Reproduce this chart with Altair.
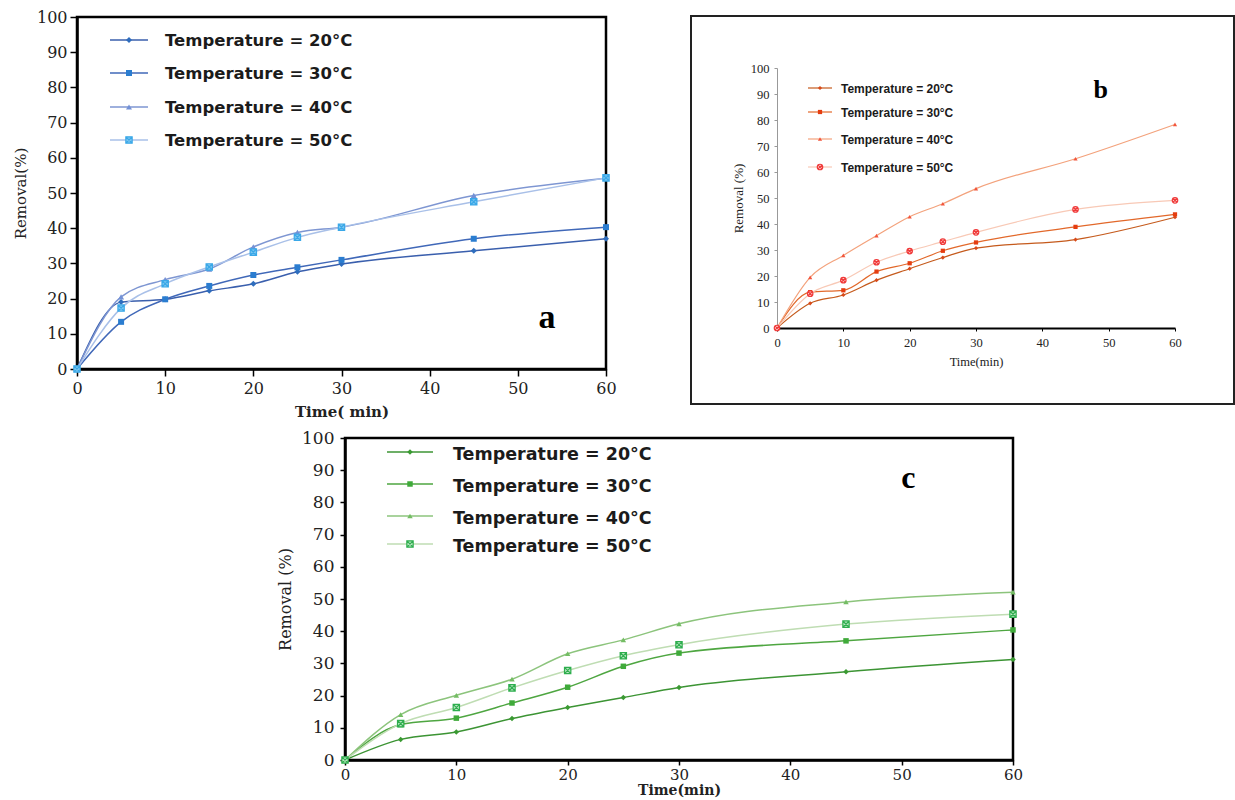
import altair as alt
import pandas as pd

W, H = 1235, 800

times = [0, 5, 10, 15, 20, 25, 30, 45, 60]
temps = ["Temperature = 20°C", "Temperature = 30°C", "Temperature = 40°C", "Temperature = 50°C"]
x_ticks = [0, 10, 20, 30, 40, 50, 60]
y_ticks = [0, 10, 20, 30, 40, 50, 60, 70, 80, 90, 100]

# Panel a
a_20 = [0, 19.0, 19.8, 22.2, 24.2, 27.6, 29.8, 33.6, 37.0]
a_30 = [0, 13.4, 19.8, 23.6, 26.7, 28.9, 31.0, 37.0, 40.3]
a_40 = [0, 20.5, 25.4, 28.4, 34.7, 38.8, 40.3, 49.3, 54.2]
a_50 = [0, 17.3, 24.2, 29.0, 33.2, 37.4, 40.3, 47.5, 54.3]
# Panel b
b_20 = [0, 9.5, 12.7, 18.4, 22.8, 27.1, 30.7, 34.0, 42.6]
b_30 = [0, 13.8, 14.5, 21.7, 24.9, 29.7, 32.9, 38.9, 43.7]
b_40 = [0, 19.5, 27.9, 35.5, 42.8, 47.8, 53.6, 65.1, 78.3]
b_50 = [0, 13.2, 18.4, 25.3, 29.6, 33.2, 36.8, 45.6, 49.1]
# Panel c
c_20 = [0, 6.4, 8.7, 12.9, 16.3, 19.4, 22.5, 27.4, 31.2]
c_30 = [0, 11.0, 13.0, 17.7, 22.6, 29.1, 33.2, 37.0, 40.4]
c_40 = [0, 14.1, 20.1, 25.1, 33.0, 37.3, 42.3, 49.1, 52.1]
c_50 = [0, 11.3, 16.3, 22.4, 27.8, 32.4, 35.8, 42.2, 45.3]

SQX = "M-1,-1H1V1H-1Z M-1,-1L1,1 M1,-1L-1,1"
CIRX = "M1,0A1,1,0,1,1,-1,0A1,1,0,1,1,1,0Z M-0.7,-0.7L0.7,0.7 M0.7,-0.7L-0.7,0.7"
SHAPES3 = ["diamond", "square", "triangle-up"]


def long_df(series):
    rows = []
    for label, vals in zip(temps, series):
        for t, v in zip(times, vals):
            rows.append({"time": t, "removal": v, "temp": label})
    return pd.DataFrame(rows)


def make_panel(p):
    xs = alt.Scale(domain=[0, 60], range=p["xr"], nice=False, zero=False)
    ys = alt.Scale(domain=[0, 100], range=p["yr"], nice=False, zero=False)
    df = long_df(p["series"])
    layers = []

    xaxis = alt.Axis(
        orient="bottom", offset=p["yr"][0] - H, values=x_ticks, grid=False,
        domainColor=p["xdom_color"], domainWidth=p["xdom_w"],
        tickColor=p["xdom_color"], tickWidth=p["tick_w"], tickSize=p["tick_size"],
        labelFont=p["lab_font"], labelFontSize=p["xlab_size"], labelColor="#222",
        labelPadding=p["xlab_pad"], labelFlush=False, labelOverlap=False,
        title=p["xtitle"], titleFont=p["lab_font"], titleFontSize=p["xtitle_size"],
        titleFontWeight=p["xtitle_weight"], titleColor="#222", titlePadding=p["xtitle_pad"],
    )
    yaxis = alt.Axis(
        orient="left", offset=-p["xr"][0], values=y_ticks, grid=False,
        domainColor=p["ydom_color"], domainWidth=p["ydom_w"],
        tickColor=p["ydom_color"], tickWidth=p["tick_w"], tickSize=p["tick_size"],
        labelFont=p["lab_font"], labelFontSize=p["lab_size"], labelColor="#222",
        labelPadding=p["ylab_pad"], labelFlush=False, labelOverlap=False,
        title=p["ytitle"], titleFont=p["lab_font"], titleFontSize=p["ytitle_size"],
        titleFontWeight="normal", titleColor="#222", titlePadding=p["ytitle_pad"],
    )
    frame_df = pd.DataFrame({"t0": [0], "t1": [60], "v0": [0], "v1": [100]})
    layers.append(
        alt.Chart(frame_df).mark_rect(
            filled=False, stroke="black", strokeWidth=p["frame_w"], strokeOpacity=p["frame_op"]
        ).encode(
            x=alt.X("t0:Q", scale=xs, axis=xaxis), x2="t1:Q",
            y=alt.Y("v0:Q", scale=ys, axis=yaxis), y2="v1:Q",
        )
    )
    # lines
    layers.append(
        alt.Chart(df).mark_line(interpolate="monotone", strokeWidth=p["lw"]).encode(
            x=alt.X("time:Q", scale=xs, axis=None),
            y=alt.Y("removal:Q", scale=ys, axis=None),
            color=alt.Color("temp:N", scale=alt.Scale(domain=temps, range=p["line_colors"]), legend=None),
        )
    )
    df3 = df[df["temp"] != temps[3]]
    df4 = df[df["temp"] == temps[3]]
    layers.append(
        alt.Chart(df3).mark_point(filled=True, opacity=1, size=p["ms"]).encode(
            x=alt.X("time:Q", scale=xs, axis=None),
            y=alt.Y("removal:Q", scale=ys, axis=None),
            color=alt.Color("temp:N", scale=alt.Scale(domain=temps[:3], range=p["marker_colors"]), legend=None),
            shape=alt.Shape("temp:N", scale=alt.Scale(domain=temps[:3], range=SHAPES3), legend=None),
        )
    )
    layers.append(
        alt.Chart(df4).mark_point(
            filled=True, opacity=1, size=p["ms50"], shape=p["shape50"],
            fill=p["fill50"], stroke=p["stroke50"], strokeWidth=1.2,
        ).encode(
            x=alt.X("time:Q", scale=xs, axis=None),
            y=alt.Y("removal:Q", scale=ys, axis=None),
        )
    )
    # legend
    leg = pd.DataFrame({"row": [0, 1, 2, 3], "label": temps})
    ly = alt.Scale(domain=[0, 1, 2, 3], range=p["leg_rows"], nice=False, zero=False)
    lyt = alt.Scale(domain=[0, 1, 2, 3], range=[r + p["leg_dy"] for r in p["leg_rows"]], nice=False, zero=False)
    layers.append(
        alt.Chart(leg).mark_rule(strokeWidth=p["lw"]).encode(
            x=alt.value(p["leg_x"][0]), x2=alt.value(p["leg_x"][1]),
            y=alt.Y("row:Q", scale=ly, axis=None),
            color=alt.Color("label:N", scale=alt.Scale(domain=temps, range=p["line_colors"]), legend=None),
        )
    )
    layers.append(
        alt.Chart(leg[leg["row"] < 3]).mark_point(filled=True, opacity=1, size=p["ms"]).encode(
            x=alt.value((p["leg_x"][0] + p["leg_x"][1]) / 2),
            y=alt.Y("row:Q", scale=ly, axis=None),
            color=alt.Color("label:N", scale=alt.Scale(domain=temps[:3], range=p["marker_colors"]), legend=None),
            shape=alt.Shape("label:N", scale=alt.Scale(domain=temps[:3], range=SHAPES3), legend=None),
        )
    )
    layers.append(
        alt.Chart(leg[leg["row"] == 3]).mark_point(
            filled=True, opacity=1, size=p["ms50"], shape=p["shape50"],
            fill=p["fill50"], stroke=p["stroke50"], strokeWidth=1.2,
        ).encode(
            x=alt.value((p["leg_x"][0] + p["leg_x"][1]) / 2),
            y=alt.Y("row:Q", scale=ly, axis=None),
        )
    )
    layers.append(
        alt.Chart(leg).mark_text(
            align="left", baseline="middle", font=p["leg_font"], fontSize=p["leg_size"],
            fontWeight="bold", color="#1b1b1b",
        ).encode(
            x=alt.value(p["leg_tx"]),
            y=alt.Y("row:Q", scale=lyt, axis=None),
            text="label:N",
        )
    )
    # panel letter
    let = pd.DataFrame({"t": [p["letter_pos"][0]], "v": [p["letter_pos"][1]], "s": [p["letter"]]})
    layers.append(
        alt.Chart(let).mark_text(
            font="Liberation Serif", fontWeight="bold", fontSize=p["letter_size"],
            color="black", align="center", baseline="middle",
        ).encode(
            x=alt.X("t:Q", scale=xs, axis=None),
            y=alt.Y("v:Q", scale=ys, axis=None),
            text="s:N",
        )
    )
    return layers


panel_a = dict(
    series=[a_20, a_30, a_40, a_50], xr=[77, 606], yr=[369, 17],
    xdom_color="black", xdom_w=2.5, ydom_color="black", ydom_w=2.5,
    tick_w=1.5, tick_size=7, lab_font="DejaVu Serif", lab_size=16, xlab_size=16,
    xlab_pad=4, ylab_pad=3, xtitle="Time( min)", xtitle_size=15, xtitle_weight="bold", xtitle_pad=8,
    ytitle="Removal(%)", ytitle_size=15, ytitle_pad=8,
    frame_w=2.5, frame_op=1, lw=1.5,
    line_colors=["#3a5fad", "#4068b8", "#7e96d2", "#a9c0e8"],
    marker_colors=["#2e6dbd", "#2b7dd0", "#7391d6"],
    ms=36, ms50=40, shape50=SQX, fill50="#7cc6f0", stroke50="#3aa8e8",
    leg_rows=[40, 73, 107, 140], leg_dy=1, leg_x=[110, 148], leg_tx=165,
    leg_font="DejaVu Sans", leg_size=16.5,
    letter="a", letter_pos=[53.3, 14.5], letter_size=34,
)

panel_b = dict(
    series=[b_20, b_30, b_40, b_50], xr=[777, 1175], yr=[328, 68],
    xdom_color="black", xdom_w=2, ydom_color="#999999", ydom_w=1,
    tick_w=1, tick_size=3, lab_font="Liberation Serif", lab_size=12.5, xlab_size=12.5,
    xlab_pad=5, ylab_pad=5, xtitle="Time(min)", xtitle_size=12.5, xtitle_weight="normal", xtitle_pad=7,
    ytitle="Removal (%)", ytitle_size=13, ytitle_pad=5,
    frame_w=0, frame_op=0, lw=1.2,
    line_colors=["#c55a1c", "#e2682a", "#f3a27c", "#f8c9b6"],
    marker_colors=["#d84a1a", "#e53d10", "#f2553c"],
    ms=18, ms50=30, shape50=CIRX, fill50="#ffe0dc", stroke50="#f03a3a",
    leg_rows=[88, 112, 139, 167], leg_dy=1, leg_x=[808, 832], leg_tx=841,
    leg_font="Liberation Sans", leg_size=12,
    letter="b", letter_pos=[48.8, 91.5], letter_size=26,
)

panel_c = dict(
    series=[c_20, c_30, c_40, c_50], xr=[345, 1013], yr=[760, 438],
    xdom_color="black", xdom_w=2.5, ydom_color="black", ydom_w=2.5,
    tick_w=1.5, tick_size=5, lab_font="DejaVu Serif", lab_size=17, xlab_size=15,
    xlab_pad=2, ylab_pad=6, xtitle="Time(min)", xtitle_size=14, xtitle_weight="bold", xtitle_pad=1,
    ytitle="Removal (%)", ytitle_size=16, ytitle_pad=8,
    frame_w=2.5, frame_op=1, lw=1.5,
    line_colors=["#3c9434", "#4ea641", "#8cc47c", "#bfddb3"],
    marker_colors=["#3a9a32", "#3faa3a", "#74bd64"],
    ms=30, ms50=40, shape50=SQX, fill50="#b8e6c0", stroke50="#2eae4e",
    leg_rows=[452, 484, 516, 544], leg_dy=3, leg_x=[387, 433], leg_tx=453,
    leg_font="DejaVu Sans", leg_size=17.5,
    letter="c", letter_pos=[50.6, 87.6], letter_size=32,
)

box_b = alt.Chart(pd.DataFrame({"k": [0]})).mark_rect(
    filled=False, stroke="#222", strokeWidth=2
).encode(x=alt.value(691), x2=alt.value(1234), y=alt.value(16), y2=alt.value(404))

all_layers = [box_b] + make_panel(panel_a) + make_panel(panel_b) + make_panel(panel_c)

chart = alt.layer(*all_layers).resolve_scale(
    x="independent", y="independent", color="independent", shape="independent"
).resolve_axis(x="independent", y="independent").properties(
    width=W, height=H, autosize=alt.AutoSizeParams(type="none"), padding=0, background="white"
).configure_view(strokeWidth=0)

chart.save("out.html", embed_options={"renderer": "svg", "actions": False})
